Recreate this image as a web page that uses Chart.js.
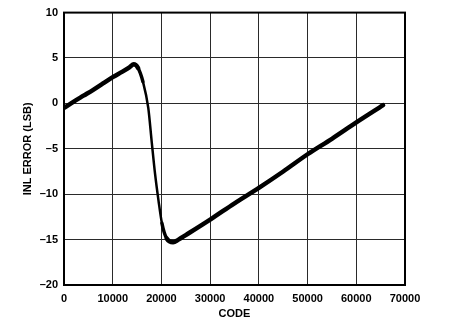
<!DOCTYPE html>
<html>
<head>
<meta charset="utf-8">
<script src="https://cdn.jsdelivr.net/npm/chart.js@4"></script>
<style>
  html, body { margin: 0; padding: 0; background: #fff; }
  #wrap { width: 450px; height: 321px; }
</style>
</head>
<body>
<div id="wrap"><canvas id="myChart" width="450" height="321"></canvas></div>
<script>
// INL error vs code
const codes = [0, 2000, 4000, 6000, 8000, 10000, 12000, 13500, 14300, 15200, 16200, 17300, 18000, 18700, 19400, 20100, 21100, 22400, 23500, 25000, 30000, 35000, 40000, 45000, 50000, 55000, 60000, 65500];
const inlError = [-0.5, 0.2, 0.85, 1.5, 2.2, 2.9, 3.5, 4.0, 4.3, 3.9, 2.4, -0.5, -4.2, -7.8, -10.7, -13.2, -14.9, -15.3, -15.0, -14.5, -12.8, -11.0, -9.3, -7.5, -5.6, -3.9, -2.1, -0.2];
const xTicks = [0, 10000, 20000, 30000, 40000, 50000, 60000, 70000];
const yTicks = [10, 5, 0, -5, -10, -15, -20];

const points = codes.map((c, i) => ({ x: c, y: inlError[i] }));
const tickFont = { family: 'Liberation Sans, Arial, sans-serif', size: 11, weight: 'bold' };

// box round the plot area
const frame = {
    id: 'frame',
    afterDraw(c) {
        const a = c.chartArea;
        const g = c.ctx;
        g.save();
        g.strokeStyle = '#000';
        g.lineWidth = 2;
        g.strokeRect(a.left, a.top, a.right - a.left, a.bottom - a.top);
        g.restore();
    }
};

// the steep drop is drawn thinner than the slow ramps
function segWidth(s) {
    const dx = s.p1.parsed.x - s.p0.parsed.x;
    const slope = Math.abs(s.p1.parsed.y - s.p0.parsed.y) / dx * 1000;
    if (slope > 2) return 2.5;
    if (slope > 1) return 3.5;
    return 4.5;
}

const ctx = document.getElementById('myChart');
new Chart(ctx, {
    type: 'scatter',
    data: {
        datasets: [{
            data: points,
            showLine: true,
            borderColor: '#000',
            borderWidth: 4.5,
            borderCapStyle: 'round',
            borderJoinStyle: 'round',
            pointRadius: 0,
            cubicInterpolationMode: 'monotone',
            segment: { borderWidth: segWidth }
        }]
    },
    options: {
        responsive: false,
        animation: false,
        layout: { padding: { left: 21, top: 10, right: 45, bottom: 0 } },
        plugins: { legend: { display: false }, tooltip: { enabled: false } },
        scales: {
            x: {
                type: 'linear',
                min: 0,
                max: 70000,
                afterBuildTicks: s => { s.ticks = xTicks.map(v => ({ value: v })); },
                afterFit: s => { s.height = 36; },
                grid: { color: '#2a2a2a', lineWidth: 1, drawTicks: false },
                border: { display: false },
                ticks: { color: '#000', font: tickFont, padding: 7, maxRotation: 0, callback: v => String(v) },
                title: { display: true, text: 'CODE', color: '#000', font: tickFont, padding: { top: 0, bottom: 0 } }
            },
            y: {
                min: -20,
                max: 10,
                afterBuildTicks: s => { s.ticks = yTicks.map(v => ({ value: v })); },
                afterFit: s => { s.width = 43; },
                grid: { color: '#2a2a2a', lineWidth: 1, drawTicks: false },
                border: { display: false },
                ticks: { color: '#000', font: tickFont, padding: 6, callback: v => v < 0 ? '\u2013' + Math.abs(v) : String(v) },
                title: { display: true, text: 'INL ERROR (LSB)', color: '#000', font: tickFont, padding: { top: 0, bottom: 0 } }
            }
        }
    },
    plugins: [frame]
});
</script>
</body>
</html>
